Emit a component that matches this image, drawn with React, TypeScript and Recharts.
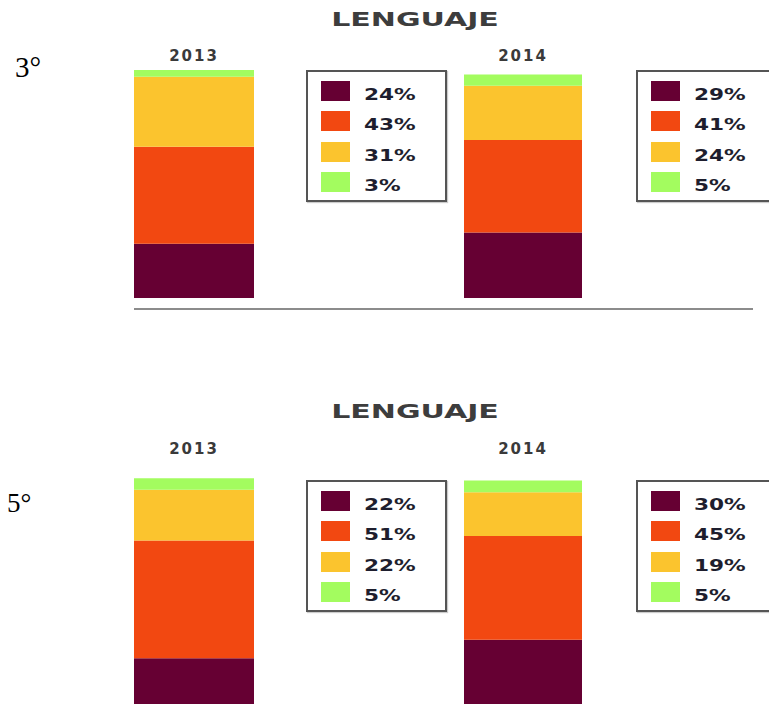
import { BarChart, Bar, XAxis, YAxis, Legend } from "recharts";

const years = ["2013", "2014"];
const title = "LENGUAJE";

// 3° grado, values per year
const purple3 = [24, 29];
const orange3 = [43, 41];
const yellow3 = [31, 24];
const green3 = [3, 5];

// 5° grado, values per year
const purple5 = [22, 30];
const orange5 = [51, 45];
const yellow5 = [22, 19];
const green5 = [5, 5];

const seriesKeys = ["purple", "orange", "yellow", "green"];
const colors: Record<string, string> = {
  purple: "#660033",
  orange: "#f24811",
  yellow: "#fbc42e",
  green: "#a3fc5f",
};

const sans = "'DejaVu Sans', Verdana, sans-serif";
const serif = "'Liberation Serif', 'Times New Roman', serif";

function LegendBox(props: any) {
  const items = [...(props.payload || [])].sort(
    (a: any, b: any) => seriesKeys.indexOf(a.dataKey) - seriesKeys.indexOf(b.dataKey)
  );
  return (
    <div
      style={{
        width: 141,
        height: 132,
        boxSizing: "border-box",
        border: "2px solid #555",
        background: "#fff",
        padding: "9px 0 0 13px",
        boxShadow: "1px 1px 1px rgba(0,0,0,0.2)",
      }}
    >
      {items.map((it: any) => (
        <div key={it.dataKey} style={{ display: "flex", height: 20, marginBottom: 10.3 }}>
          <div style={{ width: 29, height: 20, background: it.color }} />
          <span
            style={{
              marginLeft: 14,
              fontFamily: sans,
              fontWeight: "bold",
              fontSize: 16,
              lineHeight: "20px",
              color: "#1e1e2e",
              display: "inline-block",
              position: "relative",
              top: 4,
              transform: "scaleX(1.35)",
              transformOrigin: "left center",
            }}
          >
            {it.value}
          </span>
        </div>
      ))}
    </div>
  );
}

type YearProps = {
  year: string;
  vals: number[];
  left: number;
  top: number;
  width: number;
  plotWidth: number;
  height: number;
  tickMargin: number;
  legendTop: number;
};

function YearChart({ year, vals, left, top, width, plotWidth, height, tickMargin, legendTop }: YearProps) {
  const row: Record<string, any> = { year };
  seriesKeys.forEach((k, i) => (row[k] = vals[i]));
  return (
    <div style={{ position: "absolute", left, top }}>
      <BarChart
        width={width}
        height={height}
        data={[row]}
        barCategoryGap={0}
        margin={{ top: 10, right: width - plotWidth, bottom: 2, left: 0 }}
      >
        <XAxis
          dataKey="year"
          orientation="top"
          height={30}
          axisLine={false}
          tickLine={false}
          tickMargin={tickMargin}
          tick={{ fontSize: 15, fontFamily: sans, fontWeight: "bold", fill: "#3a3a3a", letterSpacing: 2 }}
        />
        <YAxis hide domain={[0, 101]} allowDataOverflow />
        <Legend
          layout="vertical"
          align="center"
          verticalAlign="middle"
          content={LegendBox}
          wrapperStyle={{ left: 172, top: legendTop, width: 141, height: 132 }}
        />
        {seriesKeys.map((k, i) => (
          <Bar
            key={k}
            dataKey={k}
            stackId="a"
            fill={colors[k]}
            name={`${vals[i]}%`}
            isAnimationActive={false}
          />
        ))}
      </BarChart>
    </div>
  );
}

function Title({ top }: { top: number }) {
  return (
    <div
      style={{
        position: "absolute",
        left: 265,
        top,
        width: 300,
        textAlign: "center",
        fontFamily: sans,
        fontWeight: "bold",
        fontSize: 20,
        lineHeight: "20px",
        color: "#3d3d3d",
        transform: "scaleX(1.5)",
      }}
    >
      {title}
    </div>
  );
}

export default function App() {
  const top3 = [purple3, orange3, yellow3, green3];
  const top5 = [purple5, orange5, yellow5, green5];
  const col = (m: number[][], j: number) => m.map((s) => s[j]);
  return (
    <div
      style={{
        position: "absolute",
        left: 0,
        top: 0,
        width: 769,
        height: 704,
        overflow: "hidden",
        background: "#fff",
      }}
    >
      {/* 3° */}
      <div style={{ position: "absolute", left: 15, top: 53, fontFamily: serif, fontSize: 29, lineHeight: "29px" }}>
        3°
      </div>
      <Title top={9} />
      <YearChart year={years[0]} vals={col(top3, 0)} left={134} top={30} width={311} plotWidth={120} height={270} tickMargin={3} legendTop={40} />
      <YearChart year={years[1]} vals={col(top3, 1)} left={464} top={30} width={305} plotWidth={118} height={270} tickMargin={3} legendTop={40} />
      <div style={{ position: "absolute", left: 134, top: 308, width: 619, height: 2, background: "#8c8c8c" }} />

      {/* 5° */}
      <div style={{ position: "absolute", left: 7, top: 490, fontFamily: serif, fontSize: 27, lineHeight: "27px" }}>
        5°
      </div>
      <Title top={401} />
      <YearChart year={years[0]} vals={col(top5, 0)} left={134} top={436} width={311} plotWidth={120} height={275} tickMargin={16} legendTop={44} />
      <YearChart year={years[1]} vals={col(top5, 1)} left={464} top={436} width={305} plotWidth={118} height={275} tickMargin={16} legendTop={44} />
    </div>
  );
}
